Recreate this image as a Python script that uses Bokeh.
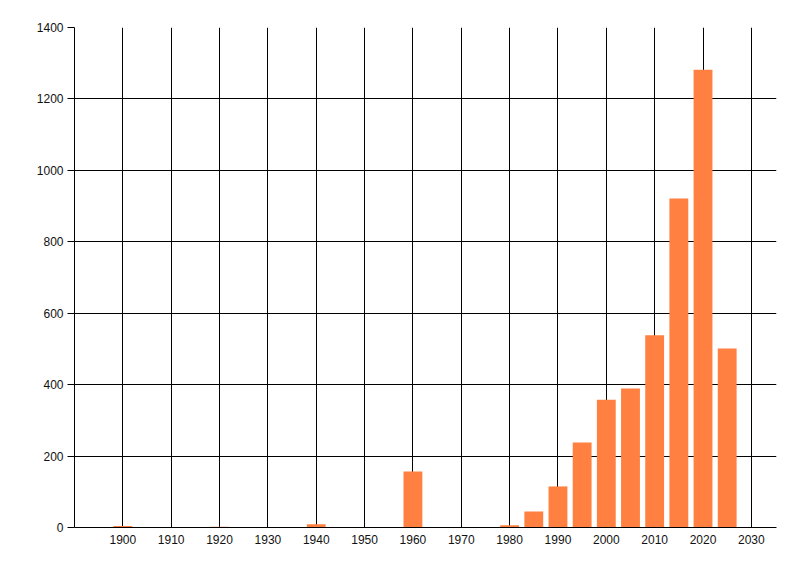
from bokeh.plotting import figure
from bokeh.models import FixedTicker, Range1d
from bokeh.embed import file_html
from bokeh.resources import INLINE

years = [1900, 1920, 1940, 1960, 1980, 1985, 1990, 1995, 2000, 2005, 2010, 2015, 2020, 2025]
counts = [4, 2, 9, 157, 6, 45, 115, 238, 358, 389, 538, 921, 1282, 501]
x_ticks = [1900, 1910, 1920, 1930, 1940, 1950, 1960, 1970, 1980, 1990, 2000, 2010, 2020, 2030]
y_ticks = [0, 200, 400, 600, 800, 1000, 1200, 1400]

p = figure(frame_width=702, frame_height=500, output_backend="svg", toolbar_location=None,
           x_range=Range1d(1890, 2035.2), y_range=Range1d(0, 1400),
           min_border_left=74, min_border_top=27, min_border_right=16, min_border_bottom=33)
p.outline_line_color = None
p.background_fill_color = "white"
p.border_fill_color = "white"

p.vbar(x=years, top=counts, width=3.9, bottom=0, fill_color="#FF8040", line_color=None)

p.xaxis.ticker = FixedTicker(ticks=x_ticks)
p.yaxis.ticker = FixedTicker(ticks=y_ticks)
p.xgrid.ticker = FixedTicker(ticks=x_ticks)
p.ygrid.ticker = FixedTicker(ticks=y_ticks)
for g in (p.xgrid, p.ygrid):
    g.grid_line_color = "black"
    g.grid_line_width = 1
    g.grid_line_alpha = 1.0
    g.level = "underlay"

for ax in (p.xaxis, p.yaxis):
    ax.axis_line_color = "black"
    ax.axis_line_width = 1
    ax.major_label_text_font = "Liberation Sans"
    ax.major_label_text_font_size = "12px"
    ax.major_label_text_color = "#111111"
    ax.minor_tick_line_color = None

p.xaxis.major_tick_out = 0
p.xaxis.major_tick_in = 0
p.xaxis.major_label_standoff = 7
p.yaxis.major_tick_out = 7
p.yaxis.major_tick_in = 0
p.yaxis.major_tick_line_color = "black"
p.yaxis.major_label_standoff = 4

open("out.html", "w").write(file_html(p, INLINE))
